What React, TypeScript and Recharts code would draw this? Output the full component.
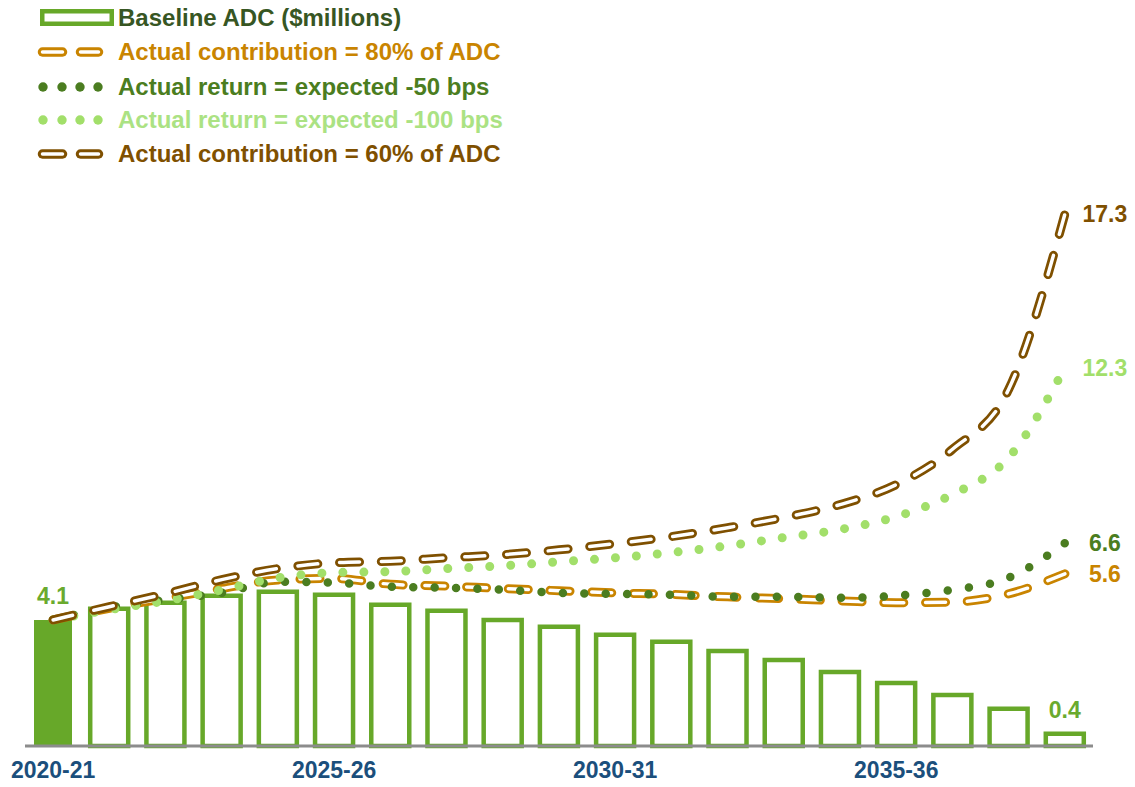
import { ComposedChart, Bar, Line, XAxis, YAxis, Cell, LabelList } from "recharts";

const years = [
  "2020-21", "2021-22", "2022-23", "2023-24", "2024-25", "2025-26", "2026-27",
  "2027-28", "2028-29", "2029-30", "2030-31", "2031-32", "2032-33", "2033-34",
  "2034-35", "2035-36", "2036-37", "2037-38", "2038-39",
];
const baselineAdc = [4.1, 4.46, 4.66, 4.89, 5.02, 4.92, 4.59, 4.4, 4.1, 3.88, 3.62, 3.39, 3.09, 2.8, 2.41, 2.05, 1.66, 1.21, 0.4];
const contrib80 = [4.1, 4.48, 4.8, 5.12, 5.4, 5.45, 5.26, 5.2, 5.12, 5.05, 4.98, 4.93, 4.85, 4.79, 4.72, 4.66, 4.68, 4.95, 5.6];
const returnMinus50 = [4.1, 4.5, 4.75, 4.98, 5.34, 5.31, 5.18, 5.15, 5.08, 4.98, 4.95, 4.92, 4.85, 4.85, 4.82, 4.89, 5.08, 5.47, 6.6];
const returnMinus100 = [4.1, 4.43, 4.72, 5.08, 5.47, 5.64, 5.67, 5.77, 5.86, 5.99, 6.12, 6.29, 6.51, 6.78, 7.04, 7.46, 8.18, 9.38, 12.3];
const contrib60 = [4.1, 4.53, 4.95, 5.41, 5.77, 5.96, 6.01, 6.12, 6.22, 6.38, 6.58, 6.81, 7.1, 7.43, 7.85, 8.5, 9.65, 11.6, 17.3];

const legendLabels = [
  "Baseline ADC ($millions)",
  "Actual contribution = 80% of ADC",
  "Actual return = expected -50 bps",
  "Actual return = expected -100 bps",
  "Actual contribution = 60% of ADC",
];

const GREEN = "#67A829";
const ORANGE = "#C98400";
const DARK_GREEN = "#4B7D20";
const LIGHT_GREEN = "#A2DF6A";
const BROWN = "#7F5000";
const FONT = "'Liberation Sans', Arial, sans-serif";

const data = years.map((year, i) => ({
  year,
  adc: baselineAdc[i],
  c80: contrib80[i],
  r50: returnMinus50[i],
  r100: returnMinus100[i],
  c60: contrib60[i],
}));

const last = years.length - 1;

function endLabel(color: string) {
  return (props: any) => {
    if (props.index !== last) return null;
    return (
      <text
        x={props.x + 40}
        y={props.y}
        dy="0.36em"
        textAnchor="middle"
        fill={color}
        fontSize={23}
        fontWeight="bold"
        fontFamily={FONT}
      >
        {props.value}
      </text>
    );
  };
}

function barLabel(props: any) {
  if (props.index !== 0 && props.index !== last) return null;
  return (
    <text
      x={props.x + props.width / 2}
      y={props.y - 16}
      textAnchor="middle"
      fill="#6AAA2E"
      fontSize={23}
      fontWeight="bold"
      fontFamily={FONT}
    >
      {props.value}
    </text>
  );
}

function DashIcon({ color }: { color: string }) {
  return (
    <g>
      {[[8.5, 28.5], [46.5, 64.5]].map(([a, b]) => (
        <g key={a}>
          <line x1={a} x2={b} y1={17} y2={17} stroke={color} strokeWidth={9.5} strokeLinecap="round" />
          <line x1={a} x2={b} y1={17} y2={17} stroke="#fff" strokeWidth={3.5} strokeLinecap="round" />
        </g>
      ))}
    </g>
  );
}

function DotIcon({ color }: { color: string }) {
  return (
    <g>
      {[9, 28, 46, 64].map((cx) => (
        <circle key={cx} cx={cx} cy={17} r={4.7} fill={color} />
      ))}
    </g>
  );
}

function ChartLegend() {
  const icons = [
    <rect key="b" x={8.25} y={10.25} width={69.5} height={12.5} fill="#fff" stroke={GREEN} strokeWidth={4.5} />,
    <DashIcon key="o" color={ORANGE} />,
    <DotIcon key="d" color={DARK_GREEN} />,
    <DotIcon key="l" color={LIGHT_GREEN} />,
    <DashIcon key="br" color={BROWN} />,
  ];
  const textColors = ["#375623", ORANGE, DARK_GREEN, "#ABE283", BROWN];
  const centers = [18, 52, 87, 120, 154];
  return (
    <div>
      {legendLabels.map((label, i) => (
        <div
          key={label}
          style={{ position: "absolute", left: 34, top: centers[i] - 17, height: 34, display: "flex", alignItems: "center" }}
        >
          <svg width={84} height={34} style={{ display: "block" }}>
            {icons[i]}
          </svg>
          <span style={{ fontSize: 24, fontWeight: "bold", color: textColors[i], whiteSpace: "nowrap" }}>{label}</span>
        </div>
      ))}
    </div>
  );
}

export default function App() {
  return (
    <div style={{ position: "absolute", left: 0, top: 0, width: 1135, height: 787, background: "#fff", fontFamily: FONT }}>
      <ComposedChart width={1135} height={787} data={data} margin={{ top: 131, right: 42, bottom: 11, left: 25 }} barSize={38}>
        <YAxis hide domain={[0, 20]} />
        <XAxis
          dataKey="year"
          interval={4}
          height={30}
          tickLine={false}
          tickMargin={10}
          axisLine={{ stroke: "#8C8C8C", strokeWidth: 3 }}
          tick={{ fill: "#1B4F7C", fontSize: 23, fontWeight: "bold", fontFamily: FONT }}
        />
        <Bar dataKey="adc" fill="#fff" stroke={GREEN} strokeWidth={4.5} isAnimationActive={false}>
          {data.map((d, i) => (
            <Cell key={d.year} fill={i === 0 ? GREEN : "#fff"} stroke={i === 0 ? "none" : GREEN} />
          ))}
          <LabelList dataKey="adc" content={barLabel} />
        </Bar>
        <Line type="monotone" dataKey="c80" stroke={ORANGE} strokeWidth={9} strokeDasharray="20 21.75" strokeLinecap="round" dot={false} activeDot={false} isAnimationActive={false}>
          <LabelList dataKey="c80" content={endLabel(ORANGE)} />
        </Line>
        <Line type="monotone" dataKey="c80" stroke="#fff" strokeWidth={3.5} strokeDasharray="20 21.75" strokeLinecap="round" dot={false} activeDot={false} isAnimationActive={false} />
        <Line type="monotone" dataKey="r50" stroke={DARK_GREEN} strokeWidth={8.5} strokeDasharray="0 21.4" strokeLinecap="round" dot={false} activeDot={false} isAnimationActive={false}>
          <LabelList dataKey="r50" content={endLabel(DARK_GREEN)} />
        </Line>
        <Line type="monotone" dataKey="r100" stroke={LIGHT_GREEN} strokeWidth={9} strokeDasharray="0 21" strokeLinecap="round" dot={false} activeDot={false} isAnimationActive={false}>
          <LabelList dataKey="r100" content={endLabel(LIGHT_GREEN)} />
        </Line>
        <Line type="monotone" dataKey="c60" stroke={BROWN} strokeWidth={9} strokeDasharray="20 21.8" strokeLinecap="round" dot={false} activeDot={false} isAnimationActive={false}>
          <LabelList dataKey="c60" content={endLabel(BROWN)} />
        </Line>
        <Line type="monotone" dataKey="c60" stroke="#fff" strokeWidth={3.5} strokeDasharray="20 21.8" strokeLinecap="round" dot={false} activeDot={false} isAnimationActive={false} />
      </ComposedChart>
      <ChartLegend />
    </div>
  );
}
